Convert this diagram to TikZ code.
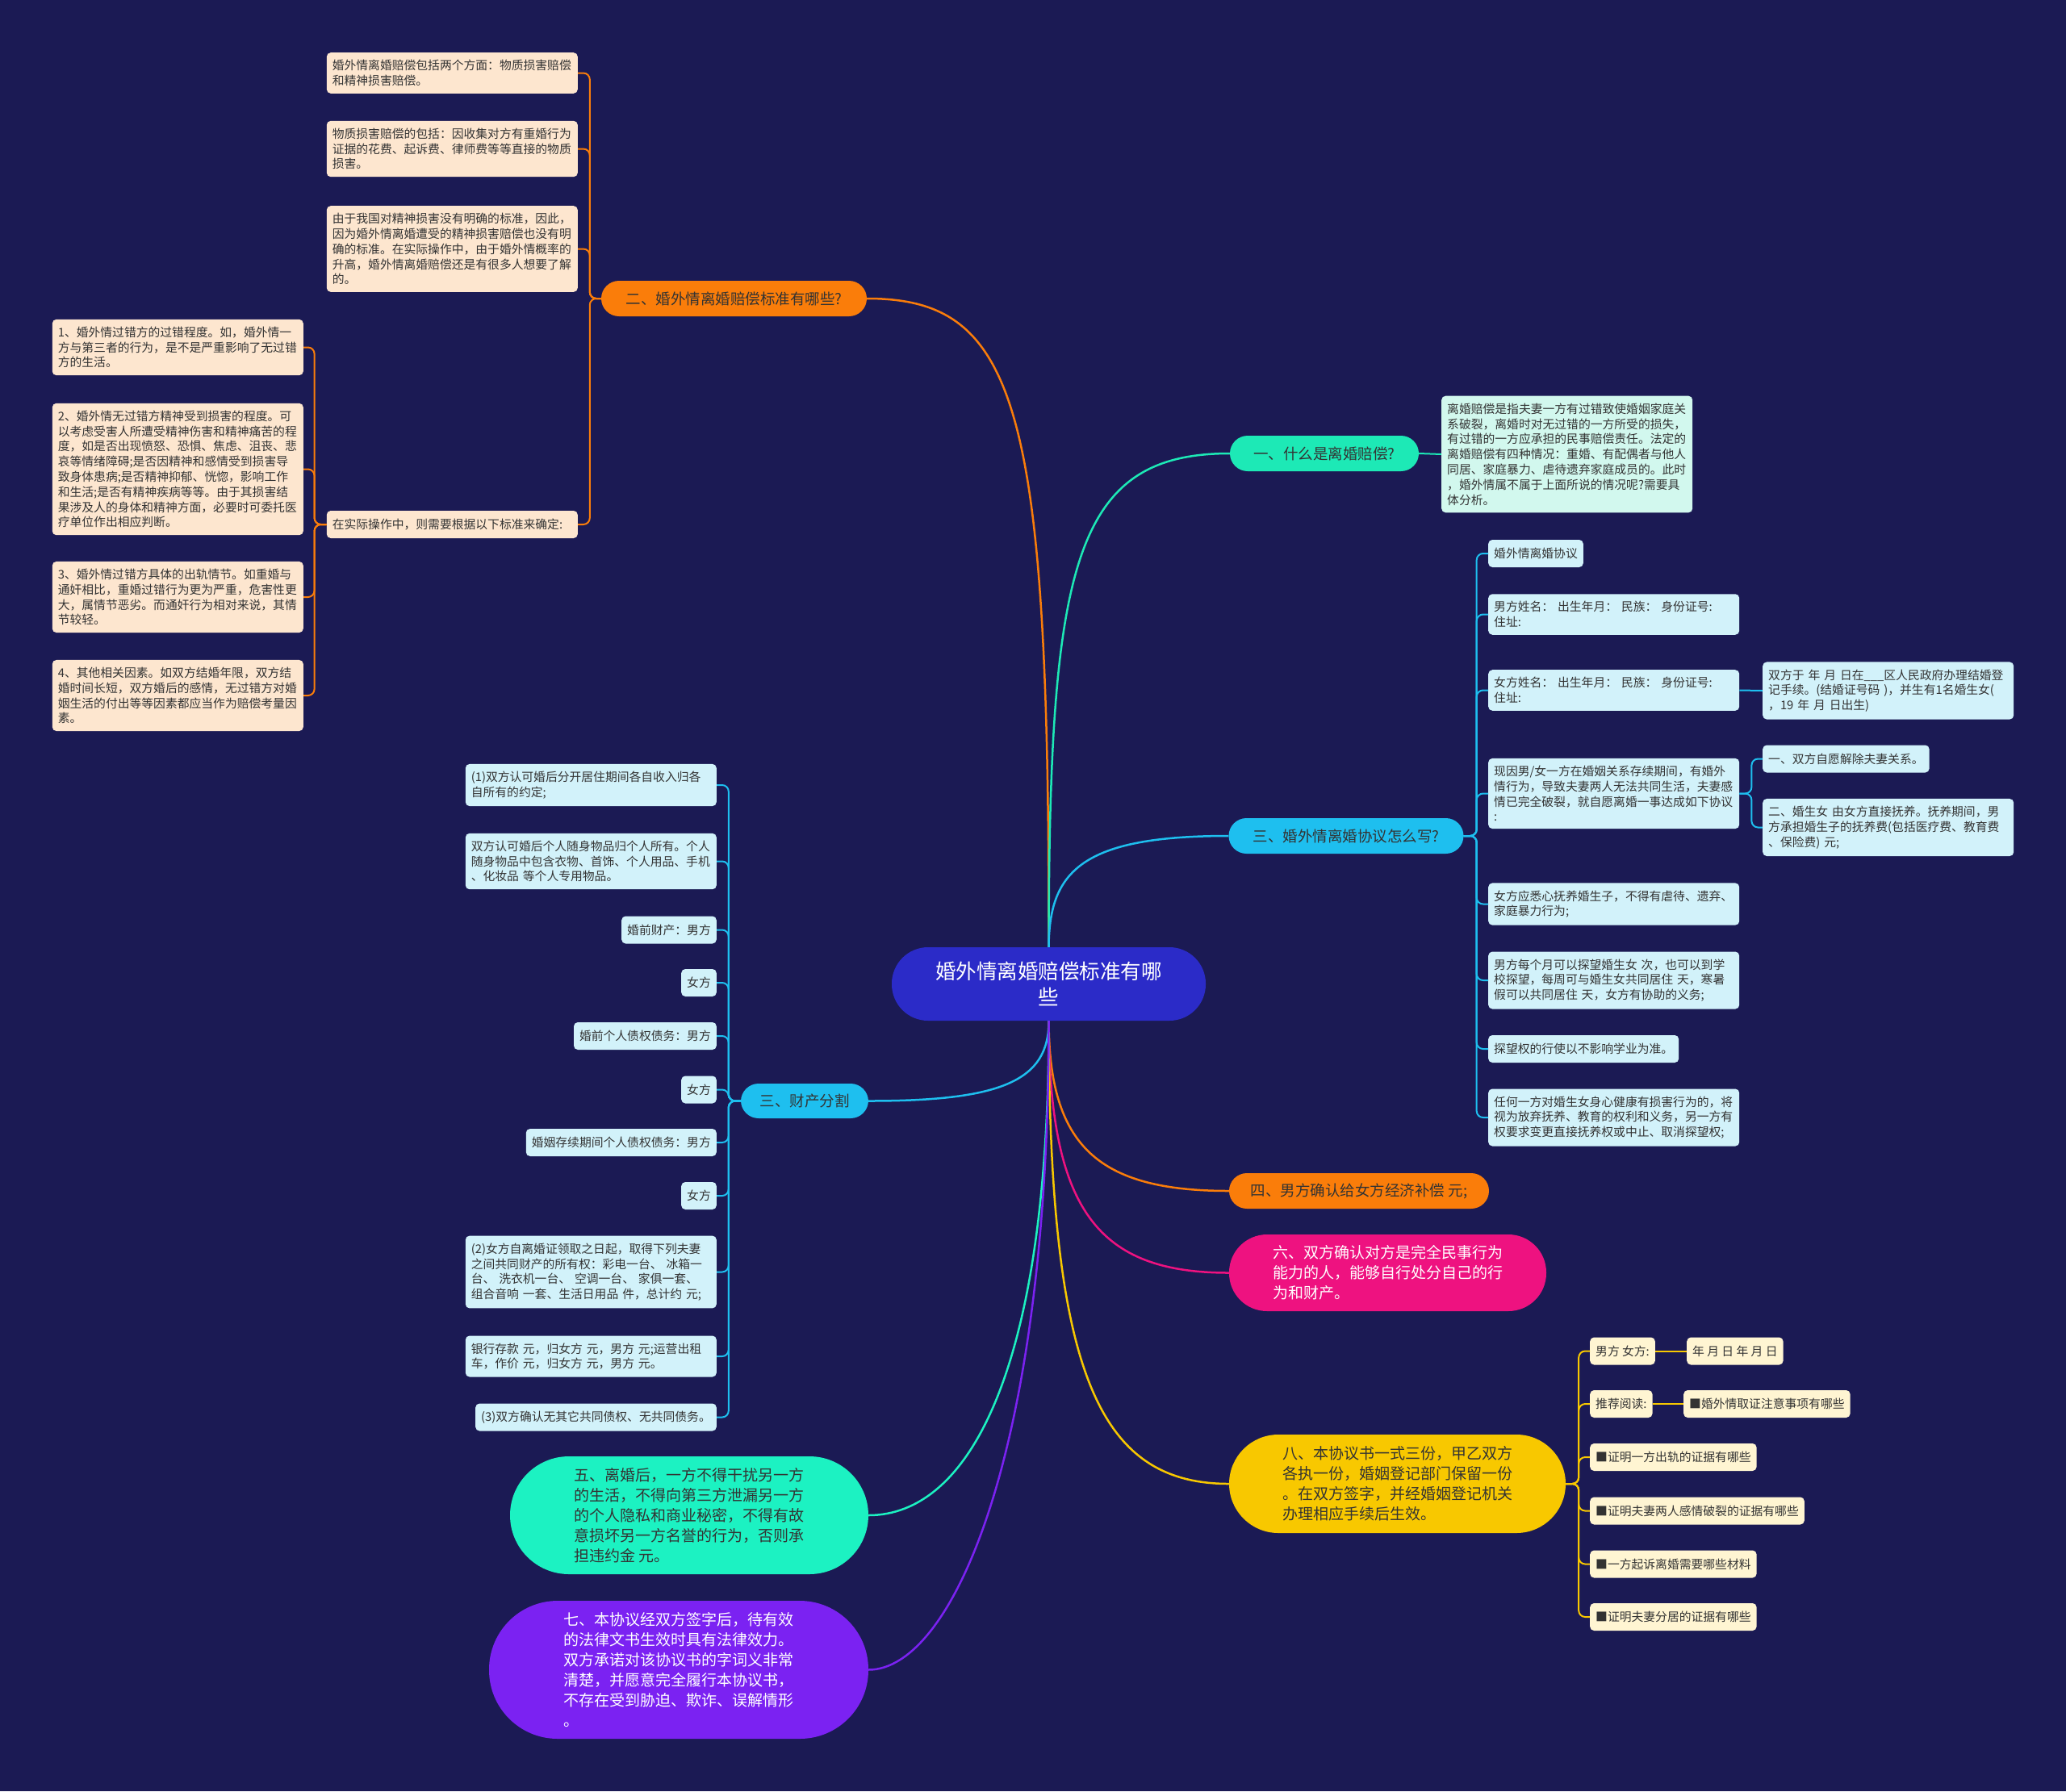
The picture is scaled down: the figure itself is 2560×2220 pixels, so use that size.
\documentclass[tikz,border=0pt]{standalone}
\usepackage{fontspec}
\setmainfont{Noto Sans CJK SC}
\usepackage{tikz}
\definecolor{NightBlue}{HTML}{1B1A54}
\definecolor{CoreBlue}{HTML}{2B2BC8}
\definecolor{AccentOrange}{HTML}{FA7D0A}
\definecolor{AccentMint}{HTML}{1DE9B6}
\definecolor{AccentCyan}{HTML}{1EBFEF}
\definecolor{AccentPink}{HTML}{EE1280}
\definecolor{AccentYellow}{HTML}{F8C800}
\definecolor{AccentAqua}{HTML}{1CF2C2}
\definecolor{AccentViolet}{HTML}{7B22F2}
\definecolor{SoftPeach}{HTML}{FDE6CF}
\definecolor{SoftMint}{HTML}{D2F8EE}
\definecolor{SoftCyan}{HTML}{D2F2FA}
\definecolor{SoftCream}{HTML}{FFF5D2}
\definecolor{InkGray}{HTML}{333333}

\begin{document}
\begin{tikzpicture}[x=1pt, y=-1pt, every node/.style={font=\fontsize{14.8}{18.8}\selectfont, text=InkGray}]
  \tikzstyle{leaf}=[rectangle, rounded corners=5pt, inner xsep=7pt, inner ysep=9pt, minimum height=34pt, align=left]
  \tikzstyle{wide}=[text width=297pt]
  \tikzstyle{branch}=[rectangle, rounded corners=22pt, minimum height=44pt, inner sep=0pt,
  font=\fontsize{18.5}{25}\selectfont, align=center]
  \tikzstyle{bigbranch}=[branch, font=\fontsize{19}{25}\selectfont, align=left]
  \tikzstyle{link}=[line width=2pt, rounded corners=8pt]
  \tikzstyle{stem}=[line width=2.5pt]

  \fill[NightBlue] (0,0) rectangle (2560,2220);
  \useasboundingbox (0,0) rectangle (2560,2220);

  \node[branch, fill=CoreBlue, text=white, minimum width=389pt, minimum height=91pt, rounded corners=45pt,
  font=\fontsize{25.5}{32}\selectfont] (root) at (1299.5,1219.5) {婚外情离婚赔偿标准有哪\\些};

  \node[branch, fill=AccentOrange, minimum width=329pt] (std) at (909.5,370) {二、婚外情离婚赔偿标准有哪些?};
  \node[leaf, wide, fill=SoftPeach, anchor=east] (fee1) at (716,90.5) {婚外情离婚赔偿包括两个方面：物质损害赔偿\\和精神损害赔偿。};
  \node[leaf, wide, fill=SoftPeach, anchor=east] (fee2) at (716,184.5) {物质损害赔偿的包括：因收集对方有重婚行为\\证据的花费、起诉费、律师费等等直接的物质\\损害。};
  \node[leaf, wide, fill=SoftPeach, anchor=east] (fee3) at (716,308.5) {由于我国对精神损害没有明确的标准，因此，\\因为婚外情离婚遭受的精神损害赔偿也没有明\\确的标准。在实际操作中，由于婚外情概率的\\升高，婚外情离婚赔偿还是有很多人想要了解\\的。};
  \node[leaf, wide, fill=SoftPeach, anchor=east] (rule) at (716,650) {在实际操作中，则需要根据以下标准来确定:};
  \node[leaf, wide, fill=SoftPeach, anchor=east] (fac1) at (376,430.5) {1、婚外情过错方的过错程度。如，婚外情一\\方与第三者的行为，是不是严重影响了无过错\\方的生活。};
  \node[leaf, wide, fill=SoftPeach, anchor=east] (fac2) at (376,581.5) {2、婚外情无过错方精神受到损害的程度。可\\以考虑受害人所遭受精神伤害和精神痛苦的程\\度，如是否出现愤怒、恐惧、焦虑、沮丧、悲\\哀等情绪障碍;是否因精神和感情受到损害导\\致身体患病;是否精神抑郁、恍惚，影响工作\\和生活;是否有精神疾病等等。由于其损害结\\果涉及人的身体和精神方面，必要时可委托医\\疗单位作出相应判断。};
  \node[leaf, wide, fill=SoftPeach, anchor=east] (fac3) at (376,740) {3、婚外情过错方具体的出轨情节。如重婚与\\通奸相比，重婚过错行为更为严重，危害性更\\大，属情节恶劣。而通奸行为相对来说，其情\\节较轻。};
  \node[leaf, wide, fill=SoftPeach, anchor=east] (fac4) at (376,862) {4、其他相关因素。如双方结婚年限，双方结\\婚时间长短，双方婚后的感情，无过错方对婚\\姻生活的付出等等因素都应当作为赔偿考量因\\素。};

  \node[branch, fill=AccentMint, minimum width=234pt] (what) at (1641,562) {一、什么是离婚赔偿?};
  \node[leaf, wide, fill=SoftMint, anchor=west] (whatnote) at (1786,563) {离婚赔偿是指夫妻一方有过错致使婚姻家庭关\\系破裂，离婚时对无过错的一方所受的损失，\\有过错的一方应承担的民事赔偿责任。法定的\\离婚赔偿有四种情况：重婚、有配偶者与他人\\同居、家庭暴力、虐待遗弃家庭成员的。此时\\，婚外情属不属于上面所说的情况呢?需要具\\体分析。};

  \node[branch, fill=AccentCyan, minimum width=291pt] (deal) at (1668,1036) {三、婚外情离婚协议怎么写?};
  \node[leaf, fill=SoftCyan, anchor=west] (dtitle) at (1844,686) {婚外情离婚协议};
  \node[leaf, wide, fill=SoftCyan, anchor=west] (dman) at (1844,761.5) {男方姓名：~出生年月：~民族：~身份证号:\\住址:};
  \node[leaf, wide, fill=SoftCyan, anchor=west] (dwoman) at (1844,855.5) {女方姓名：~出生年月：~民族：~身份证号:\\住址:};
  \node[leaf, wide, fill=SoftCyan, anchor=west] (dwed) at (2184,856) {双方于~年~月~日在\_\_\_区人民政府办理结婚登\\记手续。(结婚证号码~)，并生有1名婚生女(\\，19~年~月~日出生)};
  \node[leaf, wide, fill=SoftCyan, anchor=west] (dcause) at (1844,983.5) {现因男/女一方在婚姻关系存续期间，有婚外\\情行为，导致夫妻两人无法共同生活，夫妻感\\情已完全破裂，就自愿离婚一事达成如下协议\\:};
  \node[leaf, fill=SoftCyan, anchor=west] (dfree) at (2184,940.5) {一、双方自愿解除夫妻关系。};
  \node[leaf, wide, fill=SoftCyan, anchor=west] (dchild) at (2184,1025.5) {二、婚生女~由女方直接抚养。抚养期间，男\\方承担婚生子的抚养费(包括医疗费、教育费\\、保险费)~元;};
  \node[leaf, wide, fill=SoftCyan, anchor=west] (dcare) at (1844,1120.5) {女方应悉心抚养婚生子，不得有虐待、遗弃、\\家庭暴力行为;};
  \node[leaf, wide, fill=SoftCyan, anchor=west] (dvisit) at (1844,1215) {男方每个月可以探望婚生女~次，也可以到学\\校探望，每周可与婚生女共同居住~天，寒暑\\假可以共同居住~天，女方有协助的义务;};
  \node[leaf, fill=SoftCyan, anchor=west] (dstudy) at (1844,1300) {探望权的行使以不影响学业为准。};
  \node[leaf, wide, fill=SoftCyan, anchor=west] (dharm) at (1844,1385) {任何一方对婚生女身心健康有损害行为的，将\\视为放弃抚养、教育的权利和义务，另一方有\\权要求变更直接抚养权或中止、取消探望权;};

  \node[branch, fill=AccentOrange, minimum width=322pt] (comp) at (1684,1476) {四、男方确认给女方经济补偿 元;};
  \node[bigbranch, fill=AccentPink, text=white, minimum width=393pt, minimum height=95pt, rounded corners=47pt] (cap) at (1719.5,1577.5) {六、双方确认对方是完全民事行为\\能力的人，能够自行处分自己的行\\为和财产。};

  \node[bigbranch, fill=AccentYellow, minimum width=417pt, minimum height=122pt, rounded corners=61pt] (copy) at (1731.5,1839) {八、本协议书一式三份，甲乙双方\\各执一份，婚姻登记部门保留一份\\。在双方签字，并经婚姻登记机关\\办理相应手续后生效。};
  \node[leaf, fill=SoftCream, anchor=west] (ysign) at (1970,1674.5) {男方 女方:};
  \node[leaf, fill=SoftCream, anchor=west] (ydate) at (2090,1674.5) {年 月 日 年 月 日};
  \node[leaf, fill=SoftCream, anchor=west] (yread) at (1970,1740) {推荐阅读:};
  \node[leaf, fill=SoftCream, anchor=west] (yread1) at (2086,1740) {■婚外情取证注意事项有哪些};
  \node[leaf, fill=SoftCream, anchor=west] (yread2) at (1970,1806) {■证明一方出轨的证据有哪些};
  \node[leaf, fill=SoftCream, anchor=west] (yread3) at (1970,1872.5) {■证明夫妻两人感情破裂的证据有哪些};
  \node[leaf, fill=SoftCream, anchor=west] (yread4) at (1970,1938.5) {■一方起诉离婚需要哪些材料};
  \node[leaf, fill=SoftCream, anchor=west] (yread5) at (1970,2004) {■证明夫妻分居的证据有哪些};

  \node[branch, fill=AccentCyan, minimum width=158pt, minimum height=43pt] (split) at (997,1364.5) {三、财产分割};
  \node[leaf, wide, fill=SoftCyan, anchor=east] (prop1) at (888,973) {(1)双方认可婚后分开居住期间各自收入归各\\自所有的约定;};
  \node[leaf, wide, fill=SoftCyan, anchor=east] (prop2) at (888,1067.5) {双方认可婚后个人随身物品归个人所有。个人\\随身物品中包含衣物、首饰、个人用品、手机\\、化妆品~等个人专用物品。};
  \node[leaf, fill=SoftCyan, anchor=east] (prop3) at (888,1152.5) {婚前财产：男方};
  \node[leaf, fill=SoftCyan, anchor=east] (prop4) at (888,1218) {女方};
  \node[leaf, fill=SoftCyan, anchor=east] (prop5) at (888,1284) {婚前个人债权债务：男方};
  \node[leaf, fill=SoftCyan, anchor=east] (prop6) at (888,1350.5) {女方};
  \node[leaf, fill=SoftCyan, anchor=east] (prop7) at (888,1416) {婚姻存续期间个人债权债务：男方};
  \node[leaf, fill=SoftCyan, anchor=east] (prop8) at (888,1482) {女方};
  \node[leaf, wide, fill=SoftCyan, anchor=east] (prop9) at (888,1576.5) {(2)女方自离婚证领取之日起，取得下列夫妻\\之间共同财产的所有权：彩电一台、~冰箱一\\台、~洗衣机一台、~空调一台、~家俱一套、\\组合音响~一套、生活日用品~件，总计约~元;};
  \node[leaf, wide, fill=SoftCyan, anchor=east] (prop10) at (888,1681) {银行存款~元，归女方~元，男方~元;运营出租\\车，作价~元，归女方~元，男方~元。};
  \node[leaf, fill=SoftCyan, anchor=east] (prop11) at (888,1756.5) {(3)双方确认无其它共同债权、无共同债务。};

  \node[bigbranch, fill=AccentAqua, minimum width=444pt, minimum height=146pt, rounded corners=73pt] (after) at (854,1878) {五、离婚后，一方不得干扰另一方\\的生活，不得向第三方泄漏另一方\\的个人隐私和商业秘密，不得有故\\意损坏另一方名誉的行为，否则承\\担违约金 元。};
  \node[bigbranch, fill=AccentViolet, text=white, minimum width=470pt, minimum height=171pt, rounded corners=85pt] (sign) at (841,2069.5) {七、本协议经双方签字后，待有效\\的法律文书生效时具有法律效力。\\双方承诺对该协议书的字词义非常\\清楚，并愿意完全履行本协议书，\\不存在受到胁迫、欺诈、误解情形\\。};

  \draw[stem, AccentOrange] (root.north) .. controls (1300,500) and (1260,370) .. (std.east);
  \draw[stem, AccentMint] (root.north) .. controls (1300,700) and (1330,562) .. (what.west);
  \draw[stem, AccentCyan] (root.north) .. controls (1300,1080) and (1340,1036) .. (deal.west);
  \draw[stem, AccentCyan] (root.south) .. controls (1300,1340) and (1240,1364.5) .. (split.east);
  \draw[stem, AccentOrange] (root.south) .. controls (1300,1420) and (1360,1476) .. (comp.west);
  \draw[stem, AccentPink] (root.south) .. controls (1300,1500) and (1360,1577.5) .. (cap.west);
  \draw[stem, AccentYellow] (root.south) .. controls (1300,1700) and (1360,1839) .. (copy.west);
  \draw[stem, AccentAqua] (root.south) .. controls (1300,1700) and (1200,1878) .. (after.east);
  \draw[stem, AccentViolet] (root.south) .. controls (1300,1800) and (1180,2069.5) .. (sign.east);

  \draw[link, AccentOrange] (std.west) -- ++(-14,0) |- (fee1.east);
  \draw[link, AccentOrange] (std.west) -- ++(-14,0) |- (fee2.east);
  \draw[link, AccentOrange] (std.west) -- ++(-14,0) |- (fee3.east);
  \draw[link, AccentOrange] (std.west) -- ++(-14,0) |- (rule.east);
  \draw[link, AccentOrange] (rule.west) -- ++(-15,0) |- (fac1.east);
  \draw[link, AccentOrange] (rule.west) -- ++(-15,0) |- (fac2.east);
  \draw[link, AccentOrange] (rule.west) -- ++(-15,0) |- (fac3.east);
  \draw[link, AccentOrange] (rule.west) -- ++(-15,0) |- (fac4.east);

  \draw[link, AccentMint] (what.east) -- (whatnote.west);

  \draw[link, AccentCyan] (deal.east) -- ++(16,0) |- (dtitle.west);
  \draw[link, AccentCyan] (deal.east) -- ++(16,0) |- (dman.west);
  \draw[link, AccentCyan] (deal.east) -- ++(16,0) |- (dwoman.west);
  \draw[link, AccentCyan] (deal.east) -- ++(16,0) |- (dcause.west);
  \draw[link, AccentCyan] (deal.east) -- ++(16,0) |- (dcare.west);
  \draw[link, AccentCyan] (deal.east) -- ++(16,0) |- (dvisit.west);
  \draw[link, AccentCyan] (deal.east) -- ++(16,0) |- (dstudy.west);
  \draw[link, AccentCyan] (deal.east) -- ++(16,0) |- (dharm.west);
  \draw[link, AccentCyan] (dwoman.east) -- (dwed.west);
  \draw[link, AccentCyan] (dcause.east) -- ++(15,0) |- (dfree.west);
  \draw[link, AccentCyan] (dcause.east) -- ++(15,0) |- (dchild.west);

  \draw[link, AccentYellow] (copy.east) -- ++(16,0) |- (ysign.west);
  \draw[link, AccentYellow] (copy.east) -- ++(16,0) |- (yread.west);
  \draw[link, AccentYellow] (copy.east) -- ++(16,0) |- (yread2.west);
  \draw[link, AccentYellow] (copy.east) -- ++(16,0) |- (yread3.west);
  \draw[link, AccentYellow] (copy.east) -- ++(16,0) |- (yread4.west);
  \draw[link, AccentYellow] (copy.east) -- ++(16,0) |- (yread5.west);
  \draw[link, AccentYellow] (ysign.east) -- (ydate.west);
  \draw[link, AccentYellow] (yread.east) -- (yread1.west);

  \draw[link, AccentCyan] (split.west) -- ++(-15,0) |- (prop1.east);
  \draw[link, AccentCyan] (split.west) -- ++(-15,0) |- (prop2.east);
  \draw[link, AccentCyan] (split.west) -- ++(-15,0) |- (prop3.east);
  \draw[link, AccentCyan] (split.west) -- ++(-15,0) |- (prop4.east);
  \draw[link, AccentCyan] (split.west) -- ++(-15,0) |- (prop5.east);
  \draw[link, AccentCyan] (split.west) -- ++(-15,0) |- (prop6.east);
  \draw[link, AccentCyan] (split.west) -- ++(-15,0) |- (prop7.east);
  \draw[link, AccentCyan] (split.west) -- ++(-15,0) |- (prop8.east);
  \draw[link, AccentCyan] (split.west) -- ++(-15,0) |- (prop9.east);
  \draw[link, AccentCyan] (split.west) -- ++(-15,0) |- (prop10.east);
  \draw[link, AccentCyan] (split.west) -- ++(-15,0) |- (prop11.east);
\end{tikzpicture}
\end{document}
